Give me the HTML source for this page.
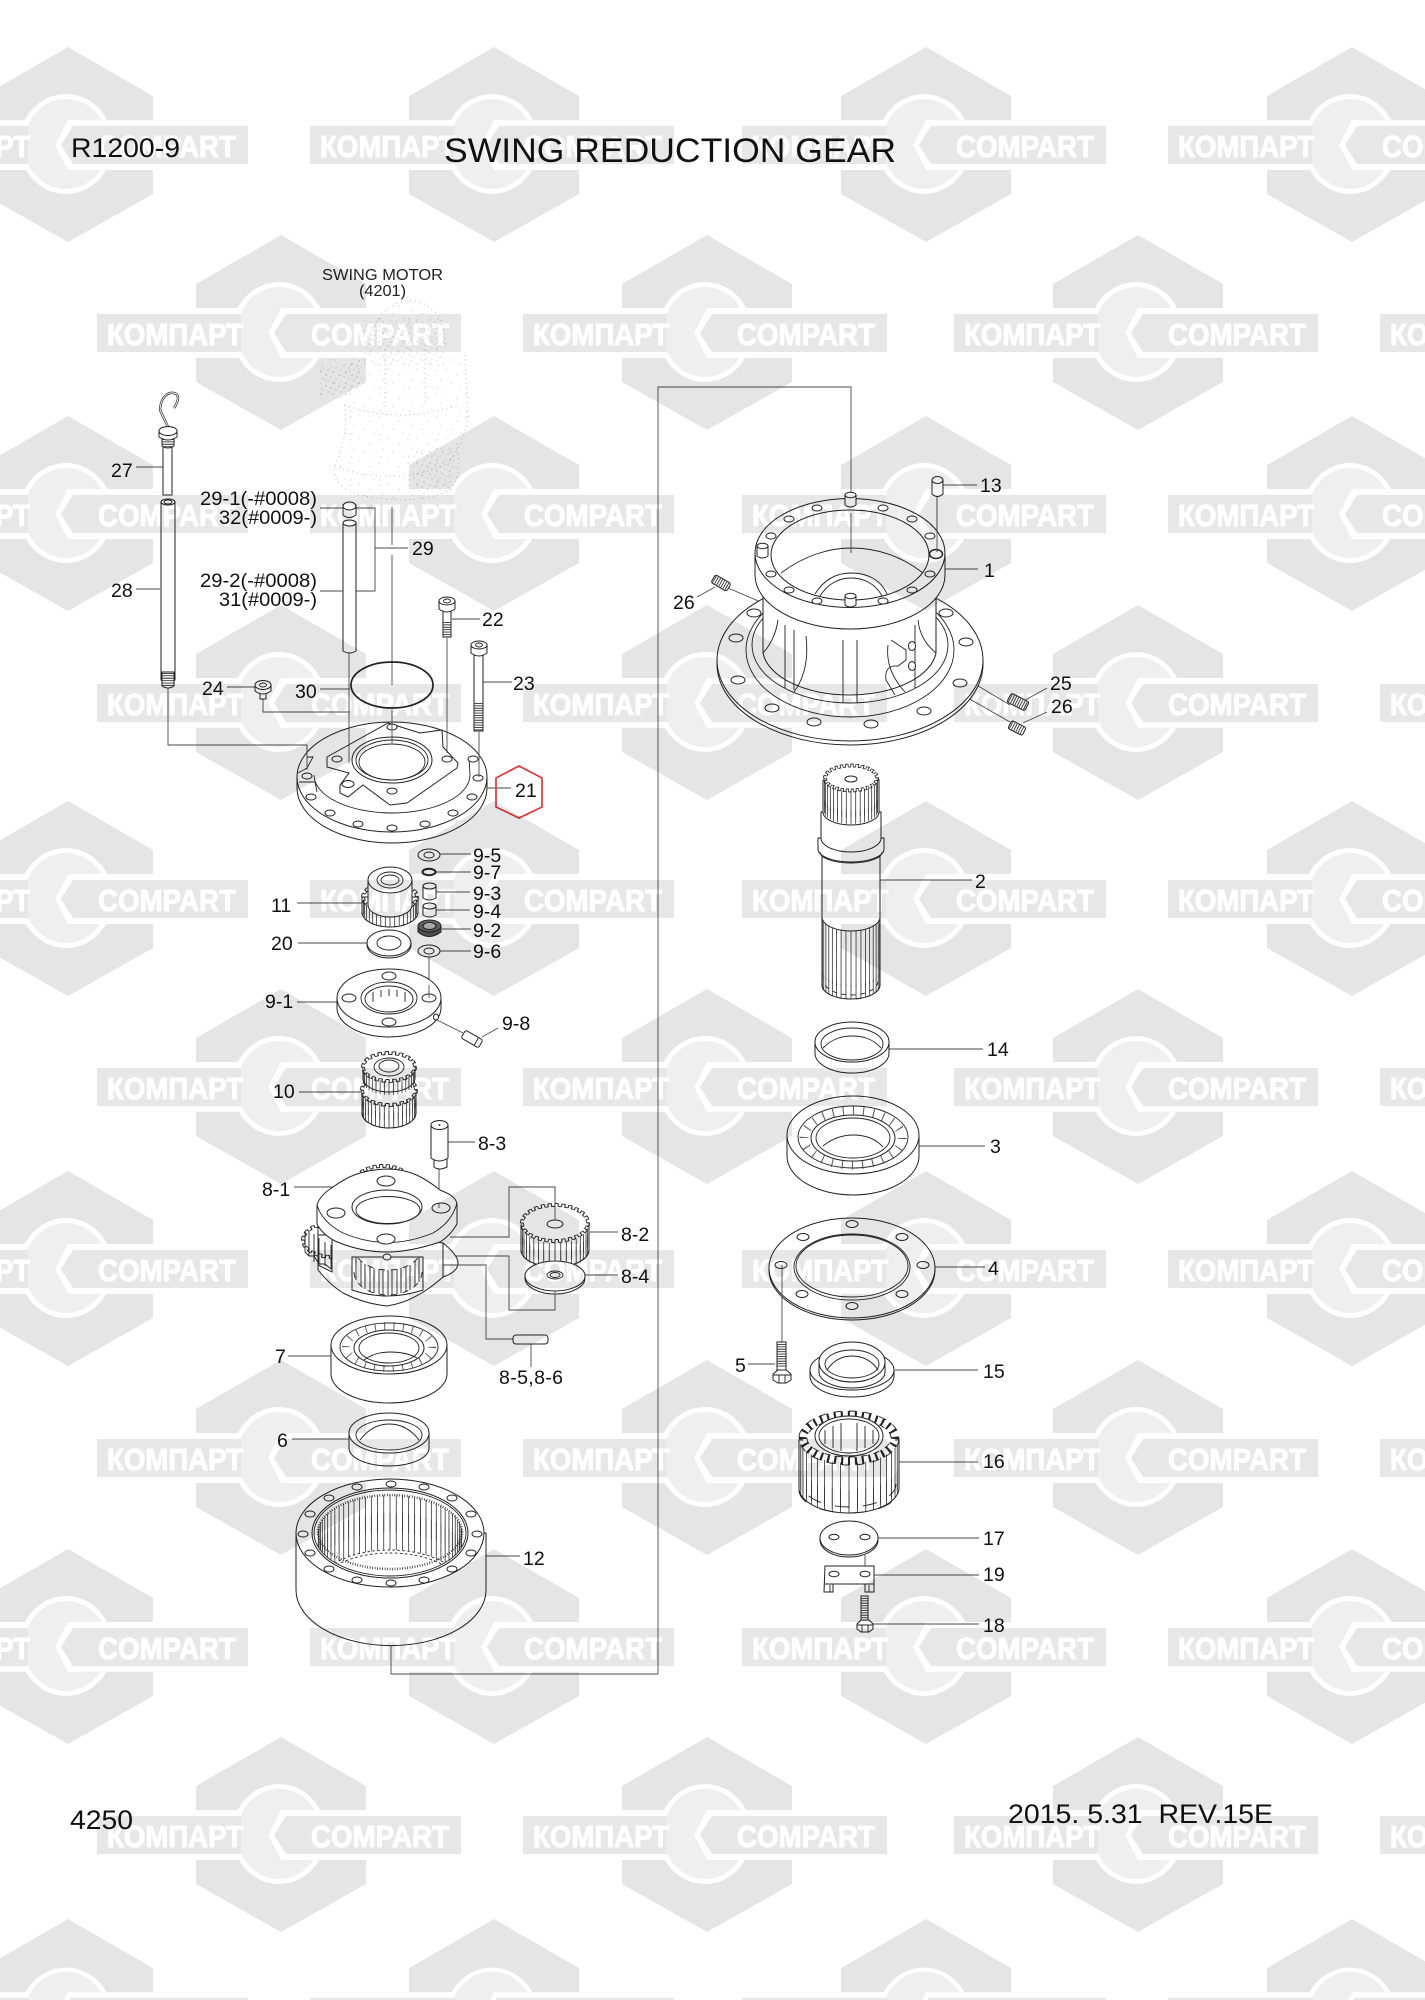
<!DOCTYPE html>
<html lang="en">
<head>
<meta charset="utf-8">
<title>SWING REDUCTION GEAR</title>
<style>
html,body{margin:0;padding:0;background:#fff}
svg{display:block;font-family:"Liberation Sans",Arial,sans-serif}
.p{fill:#fff;stroke:#222;stroke-width:1}
.n{fill:none;stroke:#222;stroke-width:.9}
.t{fill:none;stroke:#4a4a4a;stroke-width:.9}
.w{fill:#fff}
.o{fill:none;stroke:#222;stroke-width:.9;stroke-dasharray:1 1}
.i{fill:none;stroke:#222;stroke-width:.9;stroke-dasharray:1 1;stroke-dashoffset:1}
.f{fill:none;stroke:#222;stroke-dasharray:.3 .7;stroke-dashoffset:.15}
.a{font-size:19.5px;fill:#111}
.b{font-size:27px;fill:#111}
.d{fill:none;stroke:#9a9a9a;stroke-width:.9;stroke-dasharray:.7 4}
.th{fill:none;stroke:#333;stroke-dasharray:.9 1.5}
.m{fill:#fff;font-weight:bold;font-size:31px;stroke:#fff;stroke-width:1}
</style>
</head>
<body>
<svg xmlns="http://www.w3.org/2000/svg" width="1425" height="2000" viewBox="0 0 1425 2000">
<defs>
<g id="wm">
<polygon fill="#e5e5e5" points="0,-98 85,-49 85,-25 -85,-25 -85,-49"/>
<polygon fill="#e5e5e5" points="-85,25 85,25 85,49 0,97 -85,49"/>
<rect x="-184" y="-19" width="144" height="38" fill="#e7e7e7"/>
<ellipse cx="-2" cy="-1" rx="44.500" ry="47.500" fill="#efefef" stroke="#fff" stroke-width="5"/>
<rect x="-184" y="-19" width="144" height="38" fill="#e7e7e7"/>
<polygon fill="#fff" points="0,-25 -13,0 0,25 47,25 47,-25"/>
<polygon fill="#e7e7e7" points="5,-19 180,-19 180,19 5,19 -7,0"/>
<text class="m" x="-174" y="12" textLength="136" lengthAdjust="spacingAndGlyphs">КОМПАРТ</text>
<text class="m" x="30" y="12" textLength="138" lengthAdjust="spacingAndGlyphs">COMPART</text>
</g>
<g id="wb">
<polygon fill="#e5e5e5" points="0,1919 85,1968 85,1992 -85,1992 -85,1968"/>
<path fill="#fff" d="M-46,2000A47,50 0 0 1 42,2000Z"/>
<path fill="#efefef" d="M-41,2000A42,45 0 0 1 37,2000Z"/>
<rect x="-184" y="1998" width="144" height="2" fill="#e7e7e7"/>
<polygon fill="#fff" points="0,1992 -4,2000 47,2000 47,1992"/>
<rect x="2" y="1998" width="178" height="2" fill="#e7e7e7"/>
</g>
<path id="s" fill="none" stroke="#333" stroke-width=".8" vector-effect="non-scaling-stroke" d="M0,1v1M.174,.985v1M-.174,.985v1M.342,.94v1M-.342,.94v1M.5,.866v1M-.5,.866v1M.643,.766v1M-.643,.766v1M.766,.643v1M-.766,.643v1M.866,.5v1M-.866,.5v1M.94,.342v1M-.94,.342v1M.985,.174v1M-.985,.174v1"/>
<path id="z" fill="none" stroke="#333" stroke-width=".8" vector-effect="non-scaling-stroke" d="M.087,.996v1M-.087,.996v1M.259,.966v1M-.259,.966v1M.423,.906v1M-.423,.906v1M.574,.819v1M-.574,.819v1M.707,.707v1M-.707,.707v1M.819,.574v1M-.819,.574v1M.906,.423v1M-.906,.423v1M.966,.259v1M-.966,.259v1M.996,.087v1M-.996,.087v1"/>
<ellipse id="h5" class="p" rx="5" ry="3"/>
<ellipse id="h6" class="p" rx="6" ry="3.5"/>
<ellipse id="h7" class="p" rx="7" ry="4"/>
<ellipse id="h9" class="p" rx="9" ry="5"/>
<clipPath id="c12"><ellipse cx="390" cy="1533" rx="76" ry="43"/></clipPath>
<clipPath id="cwin"><path d="M352,1257H423V1290Q387,1302 352,1290Z"/></clipPath>
<clipPath id="cleft"><rect x="295" y="1200" width="37" height="75"/></clipPath>
<pattern id="dots" width="29" height="23" patternUnits="userSpaceOnUse">
<circle cx="2" cy="3" r=".5" fill="#aaa"/><circle cx="11" cy="1" r=".5" fill="#bbb"/><circle cx="22" cy="7" r=".5" fill="#aaa"/><circle cx="6" cy="12" r=".5" fill="#bbb"/><circle cx="16" cy="15" r=".5" fill="#aaa"/><circle cx="26" cy="19" r=".5" fill="#bbb"/><circle cx="3" cy="20" r=".5" fill="#aaa"/>
</pattern>
<pattern id="dots2" width="13" height="11" patternUnits="userSpaceOnUse">
<circle cx="1" cy="1" r=".6" fill="#999"/><circle cx="6" cy="3" r=".6" fill="#aaa"/><circle cx="11" cy="5" r=".5" fill="#999"/><circle cx="3" cy="7" r=".5" fill="#aaa"/><circle cx="8" cy="9" r=".6" fill="#999"/>
</pattern>
</defs>
<rect width="1425" height="2000" fill="#fff"/>

<!-- watermark -->
<use href="#wm" x="68" y="145"/><use href="#wm" x="494" y="145"/><use href="#wm" x="926" y="145"/><use href="#wm" x="1352" y="145"/>
<use href="#wm" x="281" y="333"/><use href="#wm" x="707" y="333"/><use href="#wm" x="1138" y="333"/><use href="#wm" x="1564" y="333"/>
<use href="#wm" x="68" y="514"/><use href="#wm" x="494" y="514"/><use href="#wm" x="926" y="514"/><use href="#wm" x="1352" y="514"/>
<use href="#wm" x="281" y="703"/><use href="#wm" x="707" y="703"/><use href="#wm" x="1138" y="703"/><use href="#wm" x="1564" y="703"/>
<use href="#wm" x="68" y="899"/><use href="#wm" x="494" y="899"/><use href="#wm" x="926" y="899"/><use href="#wm" x="1352" y="899"/>
<use href="#wm" x="281" y="1087"/><use href="#wm" x="707" y="1087"/><use href="#wm" x="1138" y="1087"/><use href="#wm" x="1564" y="1087"/>
<use href="#wm" x="68" y="1269"/><use href="#wm" x="494" y="1269"/><use href="#wm" x="926" y="1269"/><use href="#wm" x="1352" y="1269"/>
<use href="#wm" x="281" y="1458"/><use href="#wm" x="707" y="1458"/><use href="#wm" x="1138" y="1458"/><use href="#wm" x="1564" y="1458"/>
<use href="#wm" x="68" y="1647"/><use href="#wm" x="494" y="1647"/><use href="#wm" x="926" y="1647"/><use href="#wm" x="1352" y="1647"/>
<use href="#wm" x="281" y="1835"/><use href="#wm" x="707" y="1835"/><use href="#wm" x="1138" y="1835"/><use href="#wm" x="1564" y="1835"/>
<use href="#wb" x="68"/><use href="#wb" x="494"/><use href="#wb" x="926"/><use href="#wb" x="1352"/>

<g style="mix-blend-mode:multiply">
<rect width="1425" height="2000" fill="#fff"/>

<!-- swing motor phantom -->
<path fill="url(#dots)" d="M370,345Q375,305 410,300Q445,305 445,345L465,355L468,420Q460,450 450,460Q465,470 455,490Q420,505 370,497Q330,490 335,465Q348,440 345,405L330,400L318,395V365Z"/>
<path fill="url(#dots2)" d="M320,368L362,360V385L345,397L320,395Z"/>
<path fill="url(#dots2)" d="M364,320L445,318V365L364,365Z" opacity=".6"/>
<path fill="url(#dots2)" d="M412,450L455,447L452,490L412,495Z" opacity=".8"/>
<path class="d" d="M370,345Q375,305 410,300Q445,305 445,345"/>
<path class="d" d="M465,355L468,420Q460,450 450,460"/>
<path class="d" d="M345,405Q348,440 335,465Q330,490 370,497Q420,505 450,490Q465,470 455,445"/>
<path class="d" d="M345,405Q400,425 460,405"/>
<path class="d" d="M330,465Q400,490 455,460"/>
<path class="d" d="M385,350V410M425,345V405"/>

<!-- leaders behind parts -->
<path class="t" d="M658,1674V387H851V500M851,513V553"/>
<path class="t" d="M391,1645V1674H658"/>
<path class="t" d="M168,688V745H307V770"/>
<path class="t" d="M136,467H163M136,589H160"/>
<path class="t" d="M320,508H375V591H356M343,591H320M375,548H408"/>
<path class="t" d="M392,507V545M392,555V685M320,689H350M227,687H255M263,697V712H350"/>
<path class="t" d="M452,619H480M483,682H512"/>
<path class="t" d="M440,854H471M436,872H471M436,892H470M436,910H470M442,929H471M440,951H471M429,957V993"/>
<path class="t" d="M297,903H362M298,943H367M297,1002H337M437,1020L463,1033M482,1037L498,1028M299,1092H362"/>
<path class="t" d="M448,1142H475M439,1168V1203M294,1187H335M590,1232H618M585,1275H618"/>
<path class="t" d="M450,1237H509V1187H555V1218M443,1256H509V1310H555V1293M458,1265H486V1339H513M531,1344V1367"/>
<path class="t" d="M288,1356H331M292,1439H349M486,1556H520"/>
<path class="t" d="M942,485H977M937,497V552M945,569H978M697,597L715,587M728,588L763,603M1020,703L1047,688M913,647L1010,705M1023,723L1047,712M912,666L1010,722"/>
<path class="t" d="M879,880H972M888,1049H983M918,1146H985M935,1267H985M782,1265V1342M748,1364H775M895,1370H978M898,1462H978M878,1538H979M865,1555V1566M874,1575H979M873,1624H979"/>

<!-- rod 27 / 28 -->
<path fill="none" stroke="#333" stroke-width="2.4" d="M168,427L160,410Q161,396 170,393Q178,392 178,399Q177,404 174,408"/>
<path fill="none" stroke="#fff" stroke-width=".9" d="M168,427L160,410Q161,396 170,393Q178,392 178,399Q177,404 174,408"/>
<path class="p" d="M163,445V495H172V445Z" stroke-width="1.5"/>
<path class="p" d="M162,438H174V446Q168,450 162,446Z"/>
<line class="th" x1="168" y1="439" x2="168" y2="448" stroke-width="11"/>
<path class="p" d="M159,431V437Q168,443 177,437V431Z"/>
<ellipse class="p" cx="168" cy="431" rx="9" ry="4.5"/>
<path class="p" d="M161,502V680Q168,686 175,680V502Z"/>
<ellipse class="p" cx="168" cy="502" rx="7" ry="3"/>
<ellipse class="n" cx="168" cy="502" rx="4" ry="2" stroke-width="1.4"/>
<path class="p" d="M162,672V686Q168,690 174,686V672Z"/>
<line class="th" x1="168" y1="673" x2="168" y2="687" stroke-width="12" stroke-dasharray="1 3"/>

<!-- plug + tube -->
<path class="p" d="M343,505V515Q349,520 356,515V505Z"/>
<ellipse class="p" cx="349.500" cy="506" rx="6.500" ry="4"/>
<path class="p" d="M343,523V651Q349.500,655 356,651V523Z"/>
<ellipse class="p" cx="349.500" cy="523" rx="6.500" ry="3"/>

<!-- bolts -->
<path class="p" d="M443,610V637H451V610Z"/>
<line class="th" x1="447" y1="622" x2="447" y2="637" stroke-width="8"/>
<path class="p" d="M439,601V609Q447,615 455,609V601Z"/>
<ellipse class="p" cx="447" cy="601" rx="8" ry="4"/>
<ellipse class="n" cx="447" cy="601" rx="3.500" ry="2"/>
<path class="p" d="M474,654V731H483V654Z"/>
<line class="th" x1="478.500" y1="703" x2="478.500" y2="731" stroke-width="9"/>
<path class="p" d="M471,645V653Q479,659 487,653V645Z"/>
<ellipse class="p" cx="479" cy="645" rx="8" ry="4"/>
<ellipse class="n" cx="479" cy="645" rx="3.500" ry="2"/>
<path class="p" d="M260,693V699H266V693Z"/>
<path class="p" d="M255,685V691Q263,697 271,691V685Z"/>
<ellipse class="p" cx="263" cy="685" rx="8" ry="4.500"/>
<ellipse class="n" cx="263" cy="685" rx="3.500" ry="2"/>

<!-- O ring 30 -->
<ellipse cx="392" cy="685" rx="41" ry="23" fill="none" stroke="#222" stroke-width="1.7"/>

<!-- housing 21 -->
<path class="p" d="M297,777V788A95,55 0 0 0 487,788V777Z"/>
<ellipse class="p" cx="392" cy="777" rx="95" ry="55"/>
<path class="n" d="M314,775A78,38 0 0 0 470,775"/>
<path class="n" d="M298,773L307,768L313,757H307M299,782H315L317,792"/>
<path class="n" d="M469,757L470,775"/>
<path class="p" d="M388,723L420,733L442,730L443,747L458,763L457,768L407,803L390,805L363,785L348,797L340,793V785L349,773L327,767V757Z"/>
<ellipse class="p" cx="392" cy="760" rx="40" ry="23"/>
<ellipse class="n" cx="392" cy="760" rx="36" ry="20"/>
<ellipse class="n" cx="392" cy="762" rx="33" ry="18"/>
<use href="#h5" x="307" y="776"/><use href="#h5" x="311" y="797"/><use href="#h5" x="330" y="813"/><use href="#h5" x="358" y="824"/><use href="#h5" x="392" y="828"/><use href="#h5" x="425" y="824"/><use href="#h5" x="453" y="813"/><use href="#h5" x="472" y="797"/><use href="#h5" x="478" y="778"/><use href="#h5" x="473" y="759"/><use href="#h5" x="337" y="759"/><use href="#h5" x="392" y="727"/><use href="#h5" x="447" y="759"/><use href="#h6" x="348" y="784"/><use href="#h5" x="392" y="791"/>
<path class="t" d="M349,653V763M447,638V753M479,732V777M392,710V743M307,745V770M487,788H511"/>
<polygon points="519,766 542,778 542,807 519,818 496,807 496,778" fill="none" stroke="#d63a3a" stroke-width="1.7"/>

<!-- 9-x stack -->
<ellipse class="p" cx="429" cy="855" rx="11" ry="6"/><ellipse class="n" cx="429" cy="855" rx="5" ry="3"/>
<ellipse cx="429" cy="872" rx="6.500" ry="3.200" fill="none" stroke="#222" stroke-width="2"/>
<path class="p" d="M423,886V898Q429,902 436,898V886Z"/><ellipse class="p" cx="429.500" cy="886" rx="6.500" ry="3"/>
<path class="p" d="M423,906V915Q429.500,919 436,915V906Z"/><ellipse class="p" cx="429.500" cy="906" rx="6.500" ry="3"/>
<path fill="#555" stroke="#222" d="M418,926V932Q429,941 441,932V926Z"/>
<ellipse cx="429.500" cy="926" rx="11.500" ry="6" fill="#666" stroke="#222"/>
<ellipse cx="429.500" cy="926" rx="6.500" ry="3.500" fill="#bbb" stroke="#222"/>
<ellipse class="p" cx="429" cy="951" rx="11" ry="6"/><ellipse class="n" cx="429" cy="951" rx="5" ry="3"/>

<!-- part 11 -->
<path class="p" d="M362,897V912A28,15 0 0 0 418,912V897Z"/>
<use href="#s" transform="translate(390,897) scale(27,15)"/>
<ellipse class="o" cx="390" cy="897" rx="28.500" ry="15.500" pathLength="36"/><ellipse class="i" cx="390" cy="897" rx="25.500" ry="12.500" pathLength="36"/><ellipse class="f" cx="390" cy="897" rx="27" ry="14" stroke-width="3" pathLength="36"/>
<path class="o" pathLength="18" d="M362,912A28,15 0 0 0 418,912"/>
<path class="p" d="M368,880V905A22,12 0 0 0 412,905V880Z"/>
<ellipse class="p" cx="390" cy="880" rx="22" ry="13"/>
<ellipse class="n" cx="390" cy="880" rx="13" ry="8"/><ellipse class="n" cx="390" cy="880" rx="9" ry="5"/>

<!-- washer 20 -->
<path class="p" d="M367,943V945A22,13 0 0 0 411,945V943Z"/>
<ellipse class="p" cx="389" cy="943" rx="22" ry="13"/><ellipse class="n" cx="389" cy="943" rx="12" ry="7"/>

<!-- 9-1 -->
<path class="p" d="M337,998V1008A52,29 0 0 0 441,1008V998Z"/>
<ellipse class="p" cx="389" cy="998" rx="52" ry="29"/>
<ellipse class="n" cx="389" cy="998" rx="28" ry="16"/>
<ellipse class="n" cx="389" cy="999" rx="24" ry="13"/>
<path class="n" d="M373,992V1002M381,990V1004M389,989V1005M397,990V1004M405,992V1002"/>
<ellipse class="w" cx="389" cy="1003" rx="16" ry="7"/>
<use href="#h7" x="389" y="976"/><use href="#h7" x="349" y="998"/><use href="#h7" x="429" y="998"/><use href="#h7" x="389" y="1022"/>
<ellipse class="p" cx="436" cy="1017" rx="2.500" ry="3"/>
<g transform="translate(472,1039) rotate(30)"><rect class="p" x="-10" y="-4.500" width="20" height="9" rx="2"/><line class="n" x1="5" y1="-4" x2="5" y2="4"/></g>
<path class="t" d="M429,985V998"/>

<!-- part 10 -->
<path class="p" d="M362,1090V1113A27,15 0 0 0 416,1113V1090Z"/>
<use href="#s" transform="translate(389,1090) scale(27,15)"/><use href="#s" transform="translate(389,1098) scale(27,15)"/>
<ellipse class="w" cx="389" cy="1090" rx="27" ry="15"/>
<ellipse class="o" cx="389" cy="1090" rx="28.500" ry="16.500" pathLength="36"/><ellipse class="i" cx="389" cy="1090" rx="25.500" ry="13.500" pathLength="36"/><ellipse class="f" cx="389" cy="1090" rx="27" ry="15" stroke-width="3" pathLength="36"/>
<path class="o" pathLength="18" d="M362,1113A27,15 0 0 0 416,1113"/>
<path class="p" d="M363,1067V1078A26,14 0 0 0 415,1078V1067Z"/>
<use href="#s" transform="translate(389,1067) scale(26,14)"/>
<ellipse class="w" cx="389" cy="1067" rx="26" ry="14"/>
<ellipse class="o" cx="389" cy="1067" rx="27.500" ry="15.500" pathLength="36"/><ellipse class="i" cx="389" cy="1067" rx="24.500" ry="12.500" pathLength="36"/><ellipse class="f" cx="389" cy="1067" rx="26" ry="14" stroke-width="3" pathLength="36"/>
<ellipse class="n" cx="389" cy="1067" rx="15" ry="9"/><ellipse class="n" cx="389" cy="1066" rx="10" ry="6"/>

<!-- 8-3 pin -->
<path class="p" d="M434,1158V1167Q439,1171 447,1167V1158Z"/>
<path class="p" d="M431,1125V1158Q439,1164 448,1158V1125Z"/>
<ellipse class="p" cx="439.500" cy="1125" rx="8.500" ry="4.500"/>
<circle cx="439.500" cy="1125" r="1" fill="#333"/>

<!-- 8-1 carrier -->
<ellipse class="o" cx="383" cy="1183" rx="30" ry="18.500" pathLength="44"/><ellipse class="i" cx="383" cy="1183" rx="27" ry="15.500" pathLength="44"/><ellipse class="f" cx="383" cy="1183" rx="28.500" ry="17" stroke-width="3" pathLength="44"/>
<path class="p" d="M318,1223V1270Q330,1285 343,1293Q365,1304 387,1306Q415,1302 443,1277V1243Z"/>
<path class="p" d="M443,1243Q458,1255 458,1263Q458,1272 443,1277Z"/>
<path class="p" d="M318,1235H332V1272L318,1265Z"/>
<g clip-path="url(#cleft)">
<ellipse class="o" cx="333" cy="1240" rx="31.500" ry="18.500" pathLength="40"/><ellipse class="i" cx="333" cy="1240" rx="28.500" ry="15.500" pathLength="40"/><ellipse class="f" cx="333" cy="1240" rx="30" ry="17" stroke-width="3" pathLength="40"/>
<path class="n" d="M305,1232V1252M309,1232V1256M314,1234V1262M319,1238V1264M325,1242V1266M331,1245V1269"/>
<path class="n" d="M305,1252L309,1256H314L319,1264H325L331,1269"/>
</g>
<path class="p" d="M352,1257H423V1290Q387,1302 352,1290Z"/>
<g clip-path="url(#cwin)">
<path class="n" d="M356,1255V1280M361,1261V1286M365,1264V1289M370,1267V1292M374,1268V1293M379,1269V1294M383,1270V1295M388,1270V1295M392,1270V1295M397,1269V1294M401,1268V1293M406,1267V1292M410,1265V1290M415,1261V1286M419,1257V1282"/>
<path class="o" pathLength="15" d="M354,1272A34,23 0 0 0 422,1272"/>
<path class="o" pathLength="15" d="M354,1247A34,23 0 0 0 422,1247"/>
</g>
<path class="p" d="M333,1187C347,1177 360,1170 387,1169C410,1169 425,1178 440,1190C450,1194 457,1198 457,1205V1224Q450,1236 440,1242Q410,1252 387,1252Q360,1252 335,1241Q322,1234 317,1224V1205Q320,1195 333,1187Z"/>
<path class="n" d="M317,1205Q322,1222 343,1233Q387,1252 433,1233Q452,1222 457,1203"/>
<ellipse class="p" cx="387" cy="1207" rx="35" ry="17"/>
<ellipse class="n" cx="388" cy="1210" rx="32" ry="13.500"/>
<use href="#h9" x="386" y="1181"/><use href="#h9" x="336" y="1213"/><use href="#h9" x="441" y="1208"/><use href="#h9" x="386" y="1239"/>
<ellipse class="p" cx="387" cy="1257" rx="4" ry="3"/>
<path class="t" d="M439,1203V1208M458,1265H443"/>

<!-- 8-2 gear -->
<path class="p" d="M521,1225V1250A34,17 0 0 0 589,1250V1225Z"/>
<use href="#s" transform="translate(555,1225) scale(33,18)"/>
<use href="#s" transform="translate(555,1233) scale(33,18)"/>
<ellipse class="w" cx="555" cy="1223" rx="33" ry="18"/>
<ellipse class="o" cx="555" cy="1223" rx="34.500" ry="19.500" pathLength="48"/><ellipse class="i" cx="555" cy="1223" rx="31.500" ry="16.500" pathLength="48"/><ellipse class="f" cx="555" cy="1223" rx="33" ry="18" stroke-width="3" pathLength="48"/>
<path class="o" pathLength="24" d="M521,1250A34,17 0 0 0 589,1250"/>
<ellipse class="p" cx="555" cy="1224" rx="8" ry="4"/>
<path class="t" d="M555,1187V1220"/>

<!-- 8-4 -->
<path class="p" d="M525,1276V1278A30,16 0 0 0 585,1278V1276Z"/>
<ellipse class="p" cx="555" cy="1276" rx="30" ry="15"/>
<ellipse class="n" cx="555" cy="1275" rx="8" ry="4"/><ellipse class="n" cx="555" cy="1275" rx="5" ry="2.500"/>
<path class="t" d="M555,1291V1293"/>

<!-- 8-5 pin -->
<rect class="p" x="513" y="1335" width="35" height="9" rx="3"/>

<!-- 7 bearing -->
<path class="p" d="M331,1345V1374A58,29 0 0 0 447,1374V1345Z"/>
<ellipse class="p" cx="389" cy="1345" rx="58" ry="29"/>
<ellipse class="n" cx="389" cy="1347" rx="49" ry="24"/>
<ellipse cx="389" cy="1347" rx="43" ry="21" fill="none" stroke="#555" stroke-width="8" stroke-dasharray=".1 .9" pathLength="22"/>
<ellipse class="p" cx="389" cy="1348" rx="35" ry="18"/>
<ellipse class="n" cx="389" cy="1348" rx="30" ry="15"/>
<path class="n" d="M364,1360C372,1354 382,1352 390,1352C400,1352 410,1354 417,1358"/>

<!-- 6 ring -->
<path class="p" d="M349,1433V1448A40,18 0 0 0 429,1448V1433Z"/>
<ellipse class="p" cx="389" cy="1433" rx="40" ry="20"/>
<ellipse class="n" cx="389" cy="1435" rx="33" ry="15"/>
<path class="n" d="M360,1440C370,1427 380,1424 389,1424C399,1424 410,1428 419,1440"/>

<!-- 12 ring gear -->
<path class="p" d="M296,1533V1590A94,55 0 0 0 486,1590V1533Z"/>
<ellipse class="p" cx="390" cy="1533" rx="94" ry="54"/>
<ellipse class="p" cx="390" cy="1533" rx="78" ry="45"/>
<ellipse class="n" cx="390" cy="1533" rx="76" ry="43"/>
<g clip-path="url(#c12)">
<use href="#s" transform="translate(390,1569) scale(72,-37)"/><use href="#z" transform="translate(390,1569) scale(72,-37)"/>
<use href="#s" transform="translate(390,1587) scale(72,-37)"/><use href="#z" transform="translate(390,1587) scale(72,-37)"/>
<path class="o" pathLength="70" d="M318,1587A72,37 0 0 1 462,1587"/>
<path class="i" pathLength="70" d="M318,1590A72,37 0 0 1 462,1590"/>
<ellipse class="f" cx="390" cy="1532" rx="72" ry="37" stroke-width="2.500" pathLength="140"/>
</g>
<use href="#h5" x="391" y="1484"/><use href="#h5" x="424" y="1487"/><use href="#h5" x="452" y="1498"/><use href="#h5" x="471" y="1514"/><use href="#h5" x="477" y="1534"/><use href="#h5" x="471" y="1553"/><use href="#h5" x="452" y="1569"/><use href="#h5" x="424" y="1580"/><use href="#h5" x="391" y="1583"/><use href="#h5" x="357" y="1580"/><use href="#h5" x="329" y="1569"/><use href="#h5" x="310" y="1553"/><use href="#h5" x="303" y="1534"/><use href="#h5" x="310" y="1514"/><use href="#h5" x="329" y="1498"/><use href="#h5" x="357" y="1487"/>

<!-- part 1 housing -->
<path class="p" d="M717,660V664A133,81 0 0 0 983,664V660Z"/>
<ellipse class="p" cx="850" cy="660" rx="133" ry="81"/>
<ellipse class="n" cx="850" cy="650" rx="104" ry="67"/>
<ellipse class="n" cx="850" cy="645" rx="98" ry="58"/>
<use href="#h7" x="754" y="613"/><use href="#h7" x="736" y="638"/><use href="#h7" x="738" y="680"/><use href="#h7" x="772" y="708"/><use href="#h7" x="814" y="722"/><use href="#h7" x="871" y="724"/><use href="#h7" x="924" y="711"/><use href="#h7" x="960" y="683"/><use href="#h7" x="966" y="642"/><use href="#h7" x="946" y="613"/>
<path class="p" d="M763,595V653A87,47 0 0 0 936,653V595Z"/>
<path class="n" d="M785,625V688M794,630V690M843,640V703M857,640V703M915,625V688"/>
<path class="n" d="M778,620Q775,640 763,653M918,620Q920,640 936,653M806,636Q810,670 794,692M888,645Q885,670 905,692"/>
<path class="n" d="M891,640L906,650V660L898,666Q884,665 886,680L895,695"/>
<ellipse class="p" cx="912" cy="646" rx="3.500" ry="4.500"/>
<ellipse class="p" cx="912" cy="666" rx="3.500" ry="4.500"/>
<path class="p" d="M755,553V575A95,54 0 0 0 945,575V553Z"/>
<ellipse class="p" cx="850" cy="553" rx="95" ry="54.500"/>
<ellipse class="p" cx="850" cy="555" rx="79" ry="45"/>
<path class="n" d="M781,573C805,555 830,548 851,548C875,548 900,555 923,573"/>
<path class="n" d="M815,594C825,578 838,573 851,573C865,573 880,578 887,594"/>
<path class="n" d="M820,596C828,583 840,578 851,578C863,578 875,583 882,596"/>
<use href="#h5" x="817" y="508"/><use href="#h5" x="883" y="508"/><use href="#h5" x="789" y="519"/><use href="#h5" x="912" y="519"/><use href="#h5" x="771" y="536"/><use href="#h5" x="930" y="536"/><use href="#h5" x="771" y="574"/><use href="#h5" x="930" y="574"/><use href="#h5" x="789" y="590"/><use href="#h5" x="912" y="590"/><use href="#h5" x="817" y="601"/><use href="#h5" x="883" y="601"/>
<ellipse cx="936" cy="554" rx="6.500" ry="4.500" fill="#fff" stroke="#222" stroke-width="1.500"/>
<path class="t" d="M851,513V553M937,497V552"/>
<path class="p" d="M845,495V505Q850,509 856,505V495Z"/><ellipse class="p" cx="850.500" cy="495" rx="5.500" ry="2.800"/>
<path class="p" d="M757,546V556Q762,560 768,556V546Z"/><ellipse class="p" cx="762.500" cy="546" rx="5.500" ry="2.800"/>
<path class="p" d="M845,596V605Q850,609 856,605V596Z"/><ellipse class="p" cx="850.500" cy="596" rx="5.500" ry="2.800"/>
<path class="p" d="M932,480V494Q937.500,499 943,494V480Z"/><ellipse class="p" cx="937.500" cy="480" rx="5.500" ry="3.500"/>

<!-- set screws -->
<g transform="translate(721,583) rotate(30)"><rect class="p" x="-9" y="-4.500" width="18" height="9" rx="2"/><line class="th" x1="-8" x2="8" stroke-width="8"/></g>
<g transform="translate(1018,702) rotate(27)"><rect class="p" x="-10" y="-5" width="20" height="10" rx="2"/><line class="th" x1="-9" x2="9" stroke-width="9"/></g>
<g transform="translate(1017,728) rotate(27)"><rect class="p" x="-8" y="-4.500" width="16" height="9" rx="2"/><line class="th" x1="-7" x2="7" stroke-width="8"/></g>

<!-- part 2 shaft -->
<path class="p" d="M822,917V985A29,14 0 0 0 880,985V917Z"/>
<use href="#s" transform="translate(851,917) scale(29,14)"/><use href="#s" transform="translate(851,931) scale(29,14)"/><use href="#s" transform="translate(851,945) scale(29,14)"/><use href="#s" transform="translate(851,959) scale(29,14)"/><use href="#s" transform="translate(851,971) scale(29,14)"/>
<path class="o" pathLength="14" d="M822,985A29,14 0 0 0 880,985"/>
<path class="i" pathLength="14" d="M824,981A27,14 0 0 0 878,981"/>
<path class="p" d="M822,857V917A29,14 0 0 0 880,917V857Z"/>
<path class="p" d="M818,838V849A33,13 0 0 0 884,849V838Z"/>
<path class="n" d="M820,852A31,11 0 0 0 882,852"/>
<path class="p" d="M821,812V838A30,14 0 0 0 881,838V812Z"/>
<path class="p" d="M823,780V812A28,13 0 0 0 879,812V780Z"/>
<use href="#s" transform="translate(851,778) scale(27,13)"/>
<use href="#s" transform="translate(851,791) scale(27,13)"/>
<use href="#s" transform="translate(851,798) scale(27,13)"/>
<ellipse class="w" cx="851" cy="778" rx="26" ry="12.500"/>
<ellipse class="o" cx="851" cy="778" rx="27.500" ry="14" pathLength="48"/><ellipse class="i" cx="851" cy="778" rx="24.500" ry="11" pathLength="48"/><ellipse class="f" cx="851" cy="778" rx="26" ry="12.500" stroke-width="3" pathLength="48"/>
<ellipse class="p" cx="851" cy="779" rx="6" ry="3"/>

<!-- 14 -->
<path class="p" d="M815,1042V1053A37,20 0 0 0 889,1053V1042Z"/>
<ellipse class="p" cx="852" cy="1042" rx="37" ry="20"/>
<ellipse class="n" cx="852" cy="1044" rx="31" ry="16"/>
<path class="n" d="M823,1048C833,1038 843,1036 852,1036C862,1036 872,1038 881,1048"/>

<!-- 3 bearing -->
<path class="p" d="M787,1135V1156A66,39 0 0 0 919,1156V1135Z"/>
<ellipse class="p" cx="853" cy="1135" rx="66" ry="39"/>
<ellipse class="n" cx="853" cy="1137" rx="55" ry="31"/>
<ellipse cx="853" cy="1138" rx="49" ry="27" fill="none" stroke="#555" stroke-width="9" stroke-dasharray=".1 .9" pathLength="24"/>
<ellipse class="p" cx="853" cy="1138" rx="42" ry="23"/>
<ellipse class="n" cx="853" cy="1138" rx="37" ry="20"/>
<path class="n" d="M823,1146C833,1138 843,1135 853,1135C864,1135 875,1138 883,1147"/>

<!-- 4 plate -->
<path class="p" d="M769,1268V1270A83,50 0 0 0 935,1270V1268Z"/>
<ellipse class="p" cx="852" cy="1268" rx="83" ry="50"/>
<ellipse class="n" cx="852" cy="1267" rx="58" ry="33"/>
<ellipse class="n" cx="852" cy="1266" rx="56" ry="31"/>
<use href="#h6" x="852" y="1224"/><use href="#h6" x="803" y="1237"/><use href="#h6" x="902" y="1237"/><use href="#h6" x="781" y="1265"/><use href="#h6" x="923" y="1265"/><use href="#h6" x="802" y="1294"/><use href="#h6" x="902" y="1294"/><use href="#h6" x="852" y="1306"/>
<path class="t" d="M782,1265V1295"/>

<!-- 5 bolt -->
<path class="p" d="M777,1342V1372H786V1342Z"/>
<line class="th" x1="781.500" y1="1344" x2="781.500" y2="1368" stroke-width="8"/>
<path class="p" d="M773,1374L778,1370H786L791,1374V1380L786,1383H778L773,1380Z"/>
<path class="n" d="M773,1375H791M779,1375V1383M785,1375V1383"/>

<!-- 15 -->
<path class="p" d="M810,1370V1376A42,21 0 0 0 894,1376V1370Z"/>
<ellipse class="p" cx="852" cy="1370" rx="42" ry="20"/>
<path class="p" d="M819,1362V1372A33,16 0 0 0 885,1372V1362Z"/>
<ellipse class="p" cx="852" cy="1362" rx="33" ry="20"/>
<ellipse class="n" cx="852" cy="1364" rx="27" ry="14"/>
<path class="n" d="M827,1370C835,1358 845,1356 852,1356C860,1356 870,1358 878,1370"/>

<!-- 16 gear -->
<path class="p" d="M799,1440V1488A50,25 0 0 0 899,1488V1440Z"/>
<use href="#s" transform="translate(849,1440) scale(49,23)"/><use href="#s" transform="translate(849,1463) scale(49,23)"/><use href="#s" transform="translate(849,1467) scale(49,23)"/>
<ellipse class="w" cx="849" cy="1438" rx="46" ry="23"/>
<ellipse class="o" cx="849" cy="1438" rx="50" ry="27" pathLength="32"/><ellipse class="i" cx="849" cy="1438" rx="42" ry="19" pathLength="32"/><ellipse class="f" cx="849" cy="1438" rx="46" ry="23" stroke-width="8" pathLength="32"/>
<path class="o" pathLength="8" d="M799,1490A50,23 0 0 0 899,1490"/>
<path class="i" pathLength="8" d="M802,1484A47,23 0 0 0 896,1484"/>
<ellipse class="p" cx="849" cy="1436" rx="34" ry="20"/>
<ellipse class="n" cx="849" cy="1436" rx="30" ry="17"/>
<path class="n" d="M825,1430V1444M833,1426V1448M841,1423V1451M857,1423V1451M865,1426V1448M873,1430V1444"/>

<!-- 17 -->
<path class="p" d="M820,1538V1540A29,17 0 0 0 878,1540V1538Z"/>
<ellipse class="p" cx="849" cy="1538" rx="29" ry="17"/>
<ellipse class="p" cx="834" cy="1537" rx="5" ry="2.800"/><ellipse class="p" cx="865" cy="1537" rx="5" ry="2.800"/>

<!-- 19 -->
<path class="p" d="M825,1566H874V1592H865V1584H833V1592H824Z"/>
<path class="n" d="M825,1584H874M830,1585V1592M869,1585V1592"/>
<ellipse class="p" cx="834" cy="1574" rx="5" ry="2.800"/><ellipse class="p" cx="865" cy="1574" rx="5" ry="2.800"/>

<!-- 18 -->
<path class="p" d="M861,1596V1622H868V1596Z"/>
<line class="th" x1="864.500" y1="1598" x2="864.500" y2="1620" stroke-width="7"/>
<path class="p" d="M857,1624L861,1620H869L873,1624V1629L869,1632H861L857,1629Z"/>
<path class="n" d="M857,1625H873M862,1625V1632M868,1625V1632"/>

<!-- titles -->
<text class="b" x="71" y="157" textLength="109" lengthAdjust="spacingAndGlyphs">R1200-9</text>
<text x="444" y="162" font-size="34.500" fill="#111" textLength="452" lengthAdjust="spacingAndGlyphs">SWING REDUCTION GEAR</text>
<text x="322" y="280" font-size="15.500" fill="#222" textLength="121" lengthAdjust="spacingAndGlyphs">SWING MOTOR</text>
<text x="359" y="296" font-size="15.500" fill="#222" textLength="47" lengthAdjust="spacingAndGlyphs">(4201)</text>
<text class="b" x="70" y="1829" textLength="63" lengthAdjust="spacingAndGlyphs">4250</text>
<text class="b" x="1008" y="1823" textLength="265" lengthAdjust="spacingAndGlyphs" xml:space="preserve">2015. 5.31  REV.15E</text>

<!-- labels -->
<text class="a" x="111" y="477">27</text>
<text class="a" x="111" y="597">28</text>
<text class="a" x="200" y="505" textLength="117" lengthAdjust="spacingAndGlyphs">29-1(-#0008)</text>
<text class="a" x="219" y="524" textLength="98" lengthAdjust="spacingAndGlyphs">32(#0009-)</text>
<text class="a" x="200" y="587" textLength="117" lengthAdjust="spacingAndGlyphs">29-2(-#0008)</text>
<text class="a" x="219" y="606" textLength="98" lengthAdjust="spacingAndGlyphs">31(#0009-)</text>
<text class="a" x="412" y="555">29</text>
<text class="a" x="295" y="698">30</text>
<text class="a" x="202" y="695">24</text>
<text class="a" x="482" y="626">22</text>
<text class="a" x="513" y="690">23</text>
<text class="a" x="515" y="797">21</text>
<text class="a" x="473" y="862">9-5</text>
<text class="a" x="473" y="879">9-7</text>
<text class="a" x="473" y="900">9-3</text>
<text class="a" x="473" y="918">9-4</text>
<text class="a" x="473" y="937">9-2</text>
<text class="a" x="473" y="958">9-6</text>
<text class="a" x="271" y="912">11</text>
<text class="a" x="271" y="950">20</text>
<text class="a" x="265" y="1008">9-1</text>
<text class="a" x="502" y="1030">9-8</text>
<text class="a" x="273" y="1098">10</text>
<text class="a" x="478" y="1150">8-3</text>
<text class="a" x="262" y="1196">8-1</text>
<text class="a" x="621" y="1241">8-2</text>
<text class="a" x="621" y="1283">8-4</text>
<text class="a" x="499" y="1384" textLength="64" lengthAdjust="spacing">8-5,8-6</text>
<text class="a" x="275" y="1363">7</text>
<text class="a" x="277" y="1447">6</text>
<text class="a" x="523" y="1565">12</text>
<text class="a" x="980" y="492">13</text>
<text class="a" x="984" y="577">1</text>
<text class="a" x="673" y="609">26</text>
<text class="a" x="1050" y="690">25</text>
<text class="a" x="1051" y="713">26</text>
<text class="a" x="975" y="888">2</text>
<text class="a" x="987" y="1056">14</text>
<text class="a" x="990" y="1153">3</text>
<text class="a" x="988" y="1275">4</text>
<text class="a" x="735" y="1372">5</text>
<text class="a" x="983" y="1378">15</text>
<text class="a" x="983" y="1468">16</text>
<text class="a" x="983" y="1545">17</text>
<text class="a" x="983" y="1581">19</text>
<text class="a" x="983" y="1632">18</text>
</g>
</svg>
</body>
</html>
